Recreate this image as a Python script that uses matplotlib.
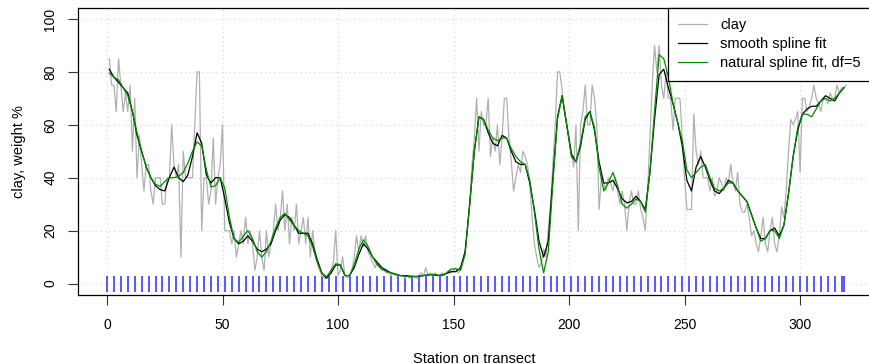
import matplotlib
matplotlib.use("Agg")
import matplotlib.pyplot as plt

plt.rcParams['font.family'] = ['Liberation Sans', 'DejaVu Sans']

# clay content (weight %) at each station 1..320 along the transect
stations = list(range(1, 321))
clay = [
    85, 75, 75, 65, 85, 75, 65, 72, 65, 75,
    50, 70, 40, 56, 45, 35, 45, 45, 35, 30,
    40, 40, 40, 30, 30, 40, 40, 60, 45, 40,
    45, 10, 50, 40, 40, 40, 40, 60, 80, 80,
    20, 40, 40, 30, 35, 55, 30, 40, 45, 60,
    20, 20, 20, 15, 20, 10, 15, 20, 15, 25,
    15, 20, 15, 5, 10, 20, 10, 5, 20, 10,
    15, 20, 30, 20, 25, 35, 20, 30, 15, 25,
    20, 30, 15, 20, 25, 15, 25, 10, 20, 12,
    8, 5, 3, 2, 2, 3, 5, 8, 20, 3,
    5, 10, 3, 2, 3, 5, 10, 18, 12, 18,
    14, 18, 12, 10, 8, 6, 8, 6, 5, 5,
    4, 4, 3, 4, 3, 3, 3, 3, 2, 3,
    2, 3, 3, 2, 3, 4, 3, 6, 3, 4,
    3, 4, 3, 3, 4, 3, 4, 5, 4, 5,
    6, 4, 5, 8, 12, 20, 30, 45, 55, 70,
    50, 65, 60, 60, 70, 48, 55, 50, 60, 45,
    55, 70, 70, 55, 46, 35, 40, 45, 42, 50,
    48, 45, 38, 25, 15, 10, 6, 8, 13, 10,
    20, 30, 45, 60, 80, 80, 73, 65, 60, 55,
    50, 44, 60, 20, 60, 65, 75, 60, 60, 75,
    70, 60, 28, 40, 38, 35, 40, 38, 35, 40,
    35, 30, 35, 30, 20, 30, 35, 30, 30, 35,
    28, 25, 20, 35, 55, 75, 90, 80, 90, 75,
    70, 80, 70, 70, 58, 70, 70, 70, 55, 40,
    28, 28, 28, 64, 50, 45, 50, 40, 40, 40,
    35, 40, 33, 35, 40, 38, 35, 40, 38, 45,
    38, 35, 42, 30, 27, 27, 30, 25, 18, 20,
    15, 12, 18, 25, 15, 12, 20, 25, 15, 12,
    18, 29, 25, 35, 50, 62, 60, 62, 65, 42,
    70, 70, 65, 67, 70, 75, 70, 68, 65, 70,
    70, 68, 72, 70, 70, 75, 72, 74, 74, 75,
]

# fitted curves, read at every second station
fit_st = list(range(1, 320, 2))
smooth_fit = [
    81, 78, 76, 74, 72, 65, 56, 50, 44, 40,
    37, 35.5, 35, 40, 44, 40, 38.5, 41, 48, 57,
    53, 41, 38, 40, 40, 32, 23, 17, 15, 16,
    18, 16, 13, 12, 13, 15, 20, 24, 26, 25,
    22, 19, 19, 19, 15, 9, 4, 2, 4, 7,
    7, 3, 3, 6, 11, 15, 13, 10, 8, 6,
    5, 4, 3.5, 3, 3, 2.8, 2.6, 2.7, 3, 3.3,
    3.3, 3, 3.2, 3.8, 4.5, 4.5, 6, 12, 30, 50,
    63, 62, 57, 53, 52, 56, 55, 50, 46, 45,
    45, 38, 28, 16, 10, 16, 40, 63, 71, 60,
    49, 46, 52, 62, 65, 58, 46, 38, 38, 39,
    36, 32, 30.5, 31, 33, 31, 28, 42, 62, 79,
    81, 74, 68, 61, 52, 39, 35, 44, 48, 44,
    39, 35, 34, 36, 39, 38, 35, 33, 31, 26,
    21, 17, 17, 20, 21, 18, 22, 34, 48, 58,
    64, 66, 67, 67, 69, 71, 70, 69, 72, 74,
]
natural_fit = [
    79.5, 78, 77, 74, 71, 65, 57, 50, 44, 40,
    37.5, 36.7, 38.5, 40, 40, 40.5, 42, 45.5, 50, 53.5,
    52, 43, 36.5, 37, 40, 36, 25, 17, 15.5, 18,
    20, 17, 12, 10, 12, 16, 21, 25, 26.5, 24,
    22, 20, 19, 18, 14, 8, 4, 2.5, 5, 7.5,
    7, 3, 3, 7, 13, 16.5, 14, 10, 7, 5.5,
    4.5, 4, 3.5, 3, 2.8, 2.6, 2.6, 2.8, 3, 3.3,
    3.5, 3.2, 3, 4, 5.5, 5.5, 5, 11, 30, 50,
    63, 62, 58, 55, 54, 55, 55, 51, 48, 46,
    45, 39, 27, 13, 4, 12, 38, 62, 71, 60,
    48, 46, 53, 63, 65, 59, 44, 35, 38, 42,
    37, 30, 28.5, 30, 32, 31, 27, 42, 65, 86.5,
    85, 78, 68, 61, 54, 43, 40, 42, 44, 45,
    40, 36, 35, 36, 38, 38, 35, 33, 31, 26,
    21, 16, 17, 20, 20, 17, 22, 34, 48, 59,
    64, 64, 63, 66, 69, 70, 69, 70, 72, 74,
]

# rug marks along the transect
rug_st = list(range(0, 319, 3)) + [319]

xticks = [0, 50, 100, 150, 200, 250, 300]
yticks = [0, 20, 40, 60, 80, 100]

W, H = 870, 364
fig = plt.figure(figsize=(W / 100, H / 100), dpi=100)
l, r, t, b = 78, 871, 8, 294.5
ax = fig.add_axes([l / W, 1 - b / H, (r - l) / W, (b - t) / H])
ax.set_xlim(-12.55, 330.7)
ax.set_ylim(-4.15, 104.15)

for xv in xticks:
    ax.axvline(xv, color='#d3d3d3', lw=0.8, ls=(0, (1, 3)), zorder=0)
for yv in yticks:
    ax.axhline(yv, color='#d3d3d3', lw=0.8, ls=(0, (1, 3)), zorder=0)

ax.plot(stations, clay, color='#b0b0b0', lw=0.9, label='clay', zorder=2)
ax.plot(fit_st, smooth_fit, color='black', lw=0.9, label='smooth spline fit', zorder=3)
ax.plot(fit_st, natural_fit, color='#008b00', lw=0.9,
        label='natural spline fit, df=5', zorder=4)
ax.plot(rug_st, [0] * len(rug_st), ls='none', marker='|', ms=11, mew=1.2,
        color='#3a3aff', zorder=1)

ax.set_xticks(xticks)
ax.set_yticks(yticks)
ax.set_yticklabels([str(v) for v in yticks], rotation=90, va='center')
ax.tick_params(length=7, width=0.8, labelsize=10, pad=8, color='#333333')
ax.tick_params(axis='x', pad=10)
for sp in ax.spines.values():
    sp.set_linewidth(0.9)

ax.set_xlabel('Station on transect', fontsize=10.5, labelpad=14)
ax.set_ylabel('clay, weight %', fontsize=10.5, labelpad=12)

leg = ax.legend(loc='upper right', borderaxespad=0, fancybox=False,
                edgecolor='black', framealpha=1, fontsize=10.5,
                handlelength=2.0, handletextpad=0.9, borderpad=0.7,
                labelspacing=0.35)
leg.get_frame().set_linewidth(0.9)

fig.savefig('out.png', dpi=100)
